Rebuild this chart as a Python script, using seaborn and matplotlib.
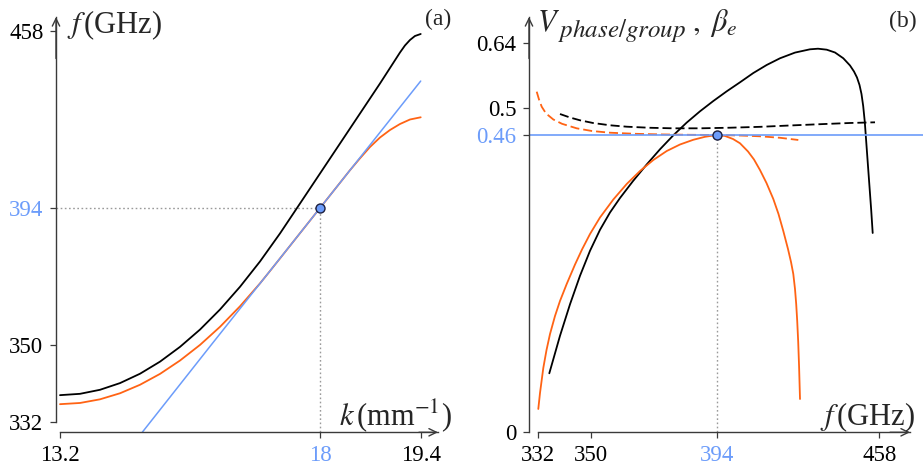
import numpy as np
import matplotlib
matplotlib.use("Agg")
import matplotlib.pyplot as plt
import seaborn as sns

# ---------------- panel (a): dispersion f(k) ----------------
k_slow = [13.2, 13.569, 13.938, 14.308, 14.677, 15.046, 15.415, 15.785, 16.154,
          16.523, 16.892, 17.262, 17.631, 18.0, 18.278, 18.556, 18.834, 18.973,
          19.112, 19.181, 19.251, 19.32, 19.4]
f_slow = [338.32, 338.63, 339.57, 341.13, 343.31, 346.12, 349.56, 354.96, 361.40,
          368.69, 376.82, 385.84, 395.63, 406.47, 417.32, 428.17, 439.02, 444.62,
          450.23, 452.76, 454.75, 456.19, 456.92]

k_loaded = [13.2, 13.569, 13.938, 14.308, 14.677, 15.046, 15.415, 15.785, 16.154,
            16.523, 16.892, 17.058, 17.262, 17.631, 18.0, 18.139, 18.278, 18.417,
            18.556, 18.695, 18.834, 18.973, 19.112, 19.251, 19.4]
f_loaded = [336.22, 336.50, 337.35, 338.76, 340.74, 343.27, 346.38, 350.03, 355.84,
            362.43, 369.78, 373.36, 377.81, 385.91, 394.0, 398.56, 403.11, 407.67,
            411.97, 416.06, 419.49, 422.20, 424.37, 426.0, 426.80]

k_beam = [14.72, 15.99, 18.0, 19.4]
f_beam = [329.7, 350.0, 394.0, 439.9]

k_sync = 18.0
f_sync = 394.0

a_xticks = [13.2, 18.0, 19.4]
a_xlabels = ["13.2", "18", "19.4"]
a_yticks = [332, 350, 394, 458]
a_ylabels = ["332", "350", "394", "458"]

# ---------------- panel (b): phase / group velocity vs f ----------------
f_vg_slow = [335.84, 339.47, 342.87, 346.26, 349.66, 353.15, 356.65, 360.15, 364.70,
             369.50, 374.15, 378.81, 383.50, 388.15, 392.81, 397.94, 403.17, 408.41,
             413.68, 418.92, 424.82, 430.72, 433.87, 437.30, 440.56, 443.83, 446.47,
             448.04, 449.22, 450.21, 450.99, 451.66, 452.29, 452.92, 453.55, 454.18,
             454.81, 455.40]
vg_slow = [0.0913, 0.1493, 0.1981, 0.2421, 0.2808, 0.3133, 0.3401, 0.3625, 0.3887,
           0.4144, 0.4379, 0.4595, 0.4784, 0.4951, 0.5151, 0.5361, 0.5556, 0.5757,
           0.5931, 0.6076, 0.6199, 0.6270, 0.6283, 0.6262, 0.6201, 0.6076, 0.5920,
           0.5790, 0.5660, 0.5498, 0.5303, 0.5043, 0.4793, 0.4461, 0.4120, 0.3780,
           0.3440, 0.3084]

f_vp_slow = [339.47, 342.87, 346.26, 350.70, 356.65, 362.50, 370.65, 378.81, 388.15,
             399.24, 411.04, 422.85, 434.66, 446.47, 456.31]
vp_slow = [0.4911, 0.4859, 0.4818, 0.4778, 0.4744, 0.4723, 0.4707, 0.4699, 0.4699,
           0.4708, 0.4721, 0.4741, 0.4760, 0.4778, 0.4788]

f_vg_loaded = [332.10, 332.68, 333.80, 334.89, 336.08, 337.77, 339.47, 341.75, 344.57,
               346.94, 349.66, 353.15, 357.81, 362.50, 367.15, 371.81, 376.50, 381.15,
               385.81, 389.90, 394.0, 397.27, 400.42, 403.17, 406.32, 408.68, 411.04,
               413.60, 416.28, 418.32, 420.21, 422.06, 423.25, 424.15, 424.82, 425.29,
               425.69, 426.08, 426.43, 426.79]
vg_loaded = [0.0361, 0.0608, 0.0995, 0.1273, 0.1521, 0.1799, 0.2032, 0.2295, 0.2596,
             0.2828, 0.3068, 0.3324, 0.3602, 0.3842, 0.4043, 0.4213, 0.4352, 0.4453,
             0.4526, 0.4572, 0.460, 0.4585, 0.4538, 0.4472, 0.4345, 0.4221, 0.4058,
             0.3857, 0.3610, 0.3378, 0.3115, 0.2836, 0.2635, 0.2449, 0.2217, 0.1985,
             0.1722, 0.1397, 0.1010, 0.0515]

f_vp_loaded = [331.56, 332.34, 333.26, 334.72, 337.20, 340.15, 345.14, 350.35, 356.65,
               365.40, 374.15, 384.65, 394.0, 403.17, 411.04, 418.92, 426.12]
vp_loaded = [0.5353, 0.5184, 0.5028, 0.4919, 0.4830, 0.4766, 0.4699, 0.4659, 0.4634,
             0.4618, 0.4609, 0.4603, 0.460, 0.4592, 0.4580, 0.4557, 0.4523]

beta_e = 0.46

b_xticks = [332, 350, 394, 458]
b_xlabels = ["332", "350", "394", "458"]
b_yticks = [0, 0.46, 0.5, 0.64]
b_ylabels = ["0", "0.46", "0.5", "0.64"]

# ---------------- styling ----------------
W, H = 923, 468
BLACK = "#000000"
ORANGE = "#FF6314"
BLUE = "#6C9CFA"
GUIDE = "#9a9a9a"
AXIS = "#3a3a3a"

sns.set_theme(style="ticks")
plt.rcParams["font.family"] = ["Liberation Serif", "DejaVu Serif"]
plt.rcParams["mathtext.fontset"] = "stix"

# Tick spacing along each axis is laid out by hand (schematic axes),
# so every axis gets a piecewise-linear warp between its labelled ticks.
A_X_POS = [60.0, 320.0, 420.7]
A_Y_POS = [422.3, 345.0, 208.0, 31.0]
B_X_POS = [538.0, 591.0, 716.7, 879.3]
B_Y_POS = [432.3, 135.0, 108.0, 43.3]


def warp(src, dst):
    src = np.asarray(src, float)
    dst = np.asarray(dst, float)
    lo = (dst[1] - dst[0]) / (src[1] - src[0])
    hi = (dst[-1] - dst[-2]) / (src[-1] - src[-2])

    def f(v):
        v = np.asarray(v, float)
        out = np.interp(v, src, dst)
        out = np.where(v < src[0], dst[0] + (v - src[0]) * lo, out)
        out = np.where(v > src[-1], dst[-1] + (v - src[-1]) * hi, out)
        return out
    return f


def make_axes(fig, box, xt, xpos, yt, ypos):
    x0, y0, x1, y1 = box  # pixel box: left, top, right, bottom
    ax = fig.add_axes([x0 / W, 1 - y1 / H, (x1 - x0) / W, (y1 - y0) / H])
    neg = [-p for p in ypos]
    fx, ix = warp(xt, xpos), warp(xpos, xt)
    fy, iy = warp(yt, neg), warp(neg, yt)
    ax.set_xscale("function", functions=(fx, ix))
    ax.set_yscale("function", functions=(fy, iy))
    return ax, ix, iy


def dress(ax, xt, xl, yt, yl, blue_x, blue_y):
    ax.set_xticks(xt)
    ax.set_xticklabels(xl)
    ax.set_yticks(yt)
    ax.set_yticklabels(yl)
    ax.minorticks_off()
    ax.tick_params(direction="out", length=4, width=0.9, color=AXIS,
                   labelsize=16.5, pad=5, labelcolor="black")
    for i in blue_x:
        ax.get_xticklabels()[i].set_color(BLUE)
    for i in blue_y:
        ax.get_yticklabels()[i].set_color(BLUE)
    ax.spines["top"].set_visible(False)
    ax.spines["right"].set_visible(False)
    for s in ("left", "bottom"):
        ax.spines[s].set_color(AXIS)
        ax.spines[s].set_linewidth(1.0)
    ax.set(xlabel="", ylabel="")
    ax.grid(False)
    ax.patch.set_alpha(0)


ARROW = dict(arrowstyle="->,head_length=0.45,head_width=0.22",
             color=AXIS, lw=1.0, shrinkA=0, shrinkB=0)


def arrow(ax, tip, tail, coords):
    ax.annotate("", xy=tip, xycoords=coords, xytext=tail, textcoords=coords,
                arrowprops=ARROW, annotation_clip=False)


def curve(ax, x, y, color, dashed=False):
    kw = dict(linestyle=(0, (5, 2.2))) if dashed else {}
    sns.lineplot(x=x, y=y, ax=ax, color=color, lw=1.3, sort=False,
                 estimator=None, **kw)


fig = plt.figure(figsize=(W / 100, H / 100), dpi=100)

# ---------- (a) ----------
axa, ixa, iya = make_axes(fig, (56, 17, 438, 432.3), a_xticks, A_X_POS, a_yticks, A_Y_POS)

curve(axa, k_slow, f_slow, BLACK)
curve(axa, k_loaded, f_loaded, ORANGE)
sns.lineplot(x=k_beam, y=f_beam, ax=axa, color=BLUE, lw=1.1, sort=False, estimator=None)

a_xlim = (float(ixa(56)), float(ixa(438)))
a_ylim = (float(iya(-432.3)), float(iya(-17)))
axa.set_xlim(*a_xlim)
axa.set_ylim(*a_ylim)

axa.plot([a_xlim[0], k_sync], [f_sync, f_sync], ls=(0, (1.2, 1.8)), color=GUIDE, lw=1.0, zorder=1)
axa.plot([k_sync, k_sync], [a_ylim[0], f_sync], ls=(0, (1.2, 1.8)), color=GUIDE, lw=1.0, zorder=1)
axa.plot([k_sync], [f_sync], "o", ms=6.5, mfc=BLUE, mec="#1c1f3f", mew=1.0, zorder=6)

dress(axa, a_xticks, a_xlabels, a_yticks, a_ylabels, [1], [2])
axa.spines["left"].set_bounds(a_yticks[0], a_ylim[1])
axa.spines["bottom"].set_bounds(a_xticks[0], a_xlim[1])
arrow(axa, (0, 1), (0, 0.9), "axes fraction")
arrow(axa, (1, 0), (0.95, 0), "axes fraction")

# ---------- (b) ----------
axb, ixb, iyb = make_axes(fig, (529, 17, 923, 432.3), b_xticks, B_X_POS, b_yticks, B_Y_POS)

curve(axb, f_vg_slow, vg_slow, BLACK)
curve(axb, f_vp_slow, vp_slow, BLACK, dashed=True)
curve(axb, f_vg_loaded, vg_loaded, ORANGE)
curve(axb, f_vp_loaded, vp_loaded, ORANGE, dashed=True)

b_xlim = (float(ixb(529)), float(ixb(923)))
b_ylim = (float(iyb(-432.3)), float(iyb(-17)))
axb.set_xlim(*b_xlim)
axb.set_ylim(*b_ylim)

axb.axhline(beta_e, color=BLUE, lw=1.2, zorder=2)
axb.plot([f_sync, f_sync], [b_ylim[0], beta_e], ls=(0, (1.2, 1.8)), color=GUIDE, lw=1.0, zorder=1)
axb.plot([f_sync], [beta_e], "o", ms=6.5, mfc=BLUE, mec="#1c1f3f", mew=1.0, zorder=6)

dress(axb, b_xticks, b_xlabels, b_yticks, b_ylabels, [2], [1])
x_tip = float(ixb(910))
axb.spines["left"].set_bounds(0, b_ylim[1])
axb.spines["bottom"].set_bounds(b_xticks[0], x_tip)
arrow(axb, (0, 1), (0, 0.9), "axes fraction")
axb.annotate("", xy=(x_tip, 0), xycoords=("data", "axes fraction"),
             xytext=(float(ixb(890)), 0), textcoords=("data", "axes fraction"),
             arrowprops=ARROW, annotation_clip=False)

# ---------- labels ----------
def at(x, y):
    return x / W, 1 - y / H


fig.text(*at(67, 33), r"$f\,$(GHz)", fontsize=22, va="baseline", ha="left")
fig.text(*at(451, 25), "(a)", fontsize=17, va="baseline", ha="right")
fig.text(*at(452, 425), r"$k\,$(mm$^{-1}$)", fontsize=22, va="baseline", ha="right")

fig.text(*at(537, 31), r"$V$", fontsize=22, va="baseline", ha="left")
fig.text(*at(558, 37), r"$phase/group$", fontsize=18, va="baseline", ha="left")
fig.text(*at(692, 31), r"$,\ \beta_e$", fontsize=22, va="baseline", ha="left")
fig.text(*at(917, 27), "(b)", fontsize=17, va="baseline", ha="right")
fig.text(*at(915, 425), r"$f\,$(GHz)", fontsize=22, va="baseline", ha="right")

fig.savefig("out.png", dpi=100)
